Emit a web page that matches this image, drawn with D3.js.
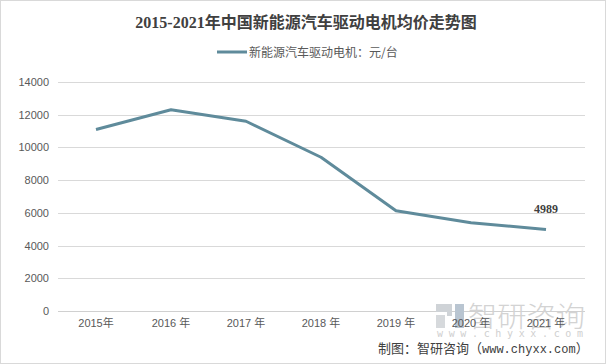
<!DOCTYPE html>
<html><head><meta charset="utf-8">
<script src="https://cdn.jsdelivr.net/npm/d3@7"></script>
<style>body{margin:0;background:#fff}svg{display:block}</style>
</head><body>
<svg id="c" width="606" height="364"></svg>
<script>
const categories = ["2015年","2016 年","2017 年","2018 年","2019 年","2020 年","2021 年"];
const values = [11100, 12300, 11600, 9400, 6130, 5400, 4989];
const yTicks = [0,2000,4000,6000,8000,10000,12000,14000];
const seriesName = "新能源汽车驱动电机：元/台";
const title = "2015-2021年中国新能源汽车驱动电机均价走势图";

const svg = d3.select("#c");
const W=606,H=364;
svg.append("rect").attr("x",0.5).attr("y",0.5).attr("width",W-1).attr("height",H-1)
  .attr("fill","#fff").attr("stroke","#d9d9d9");

const x = d3.scaleBand().domain(categories).range([58.5,583.5]);
const y = d3.scaleLinear().domain([0,14000]).range([311,82]);

// gridlines
svg.append("g").selectAll("line").data(yTicks).join("line")
  .attr("x1",58).attr("x2",585)
  .attr("y1",d=>Math.round(y(d))+0.5).attr("y2",d=>Math.round(y(d))+0.5)
  .attr("stroke",d=>d===0?"#d0d0d0":"#d9d9d9").attr("stroke-width",1);

const yAxis = d3.axisLeft(y).tickValues(yTicks).tickFormat(d3.format("d")).tickSize(0).tickPadding(0);
const ya = svg.append("g").attr("transform","translate(49,0)").call(yAxis);
ya.select(".domain").remove();
ya.selectAll("text").attr("font-family","'Liberation Sans','DejaVu Sans',sans-serif")
  .attr("font-size",11).attr("fill","#595959");

// watermark (drawn under axis labels)
const wm = svg.append("g");
wm.append("rect").attr("x",436).attr("y",304).attr("width",16).attr("height",8).attr("fill","#cfd3d7");
wm.append("rect").attr("x",436).attr("y",315).attr("width",9).attr("height",13).attr("fill","#d6d9dc");
wm.append("rect").attr("x",447).attr("y",312).attr("width",5).attr("height",4).attr("fill","#cfd3d7");
wm.append("rect").attr("x",455).attr("y",304).attr("width",9).attr("height",24).attr("fill","#b9c5d1");
wm.append("text").attr("x",468).attr("y",327).attr("font-family","'Noto Sans CJK SC',sans-serif")
  .attr("font-size",28).attr("font-weight",300).attr("textLength",117).attr("lengthAdjust","spacingAndGlyphs")
  .attr("fill","#d3d3d3").text("智研咨询");
wm.append("text").attr("x",437).attr("y",337).attr("font-family","'DejaVu Sans Mono',monospace")
  .attr("font-size",10).attr("textLength",146).attr("fill","#d0d0d0").text("www.chyxx.com");

const xAxis = d3.axisBottom(x).tickSize(0).tickPadding(0);
const xa = svg.append("g").attr("transform","translate(0,319)").call(xAxis);
xa.select(".domain").remove();
xa.selectAll("text").attr("font-family","'Liberation Sans','Noto Sans CJK SC',sans-serif")
  .attr("font-size",11).attr("fill","#595959");

// line
const line = d3.line().x((d,i)=>x(categories[i])+x.bandwidth()/2).y(d=>y(d));
svg.append("path").datum(values).attr("d",line).attr("fill","none")
  .attr("stroke","#5f8b9b").attr("stroke-width",3).attr("stroke-linejoin","round");

// last label
const li = values.length-1;
svg.append("text").attr("x",x(categories[li])+x.bandwidth()/2).attr("y",y(values[li])-16)
  .attr("text-anchor","middle").attr("font-family","'Liberation Serif','DejaVu Serif',serif")
  .attr("font-weight","bold").attr("font-size",12).attr("fill","#404040").text(values[li]);

// title
svg.append("text").attr("x",306).attr("y",28).attr("text-anchor","middle")
  .attr("font-family","'Liberation Serif','Noto Sans CJK SC',serif").attr("font-weight","bold")
  .attr("font-size",16).attr("fill","#404040").text(title);

// legend
svg.append("line").attr("x1",217).attr("x2",247).attr("y1",52).attr("y2",52)
  .attr("stroke","#5f8b9b").attr("stroke-width",3);
svg.append("text").attr("x",249).attr("y",57).attr("font-family","'Noto Sans CJK SC',sans-serif")
  .attr("font-size",12).attr("fill","#595959").text(seriesName);

// source
const src = svg.append("text").attr("x",378).attr("y",353)
  .attr("font-family","'Noto Sans CJK SC',sans-serif").attr("font-size",13).attr("fill","#404040");
src.append("tspan").text("制图：智研咨询（");
src.append("tspan").attr("font-family","'Liberation Mono',monospace").attr("font-size",12).text("www.chyxx.com");
src.append("tspan").text("）");
</script>
</body></html>
